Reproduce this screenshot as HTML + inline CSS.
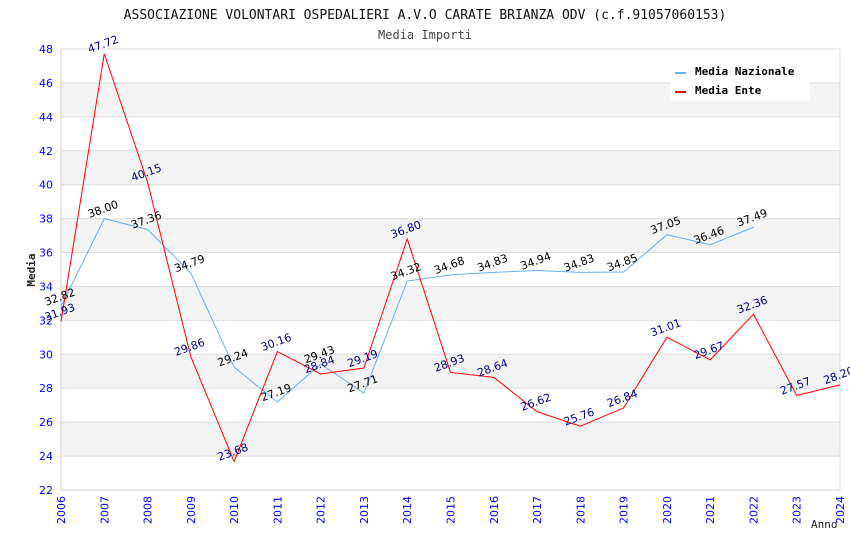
<!DOCTYPE html>
<html><head><meta charset="utf-8"><style>
body{margin:0;background:#fff;}
svg{display:block;}
text{font-family:"DejaVu Sans Mono","Liberation Mono",monospace;}
</style></head><body>
<svg id="chart" width="850" height="550">
<text x="425" y="19" text-anchor="middle" font-size="13" fill="#111">ASSOCIAZIONE VOLONTARI OSPEDALIERI A.V.O CARATE BRIANZA ODV (c.f.91057060153)</text>
<text x="425" y="39" text-anchor="middle" font-size="12" fill="#444">Media Importi</text>
<g id="bands"></g><g id="grid"></g><g id="axes"></g><g id="series"></g><g id="labels"></g>
<text x="35" y="270" transform="rotate(-90 35 270)" text-anchor="middle" font-size="11" font-weight="bold" fill="#222">Media</text>
<text x="811" y="528" font-size="11" fill="#222">Anno</text>
<g>
<rect x="670" y="57" width="140" height="44" fill="#fff"/>
<line x1="675" y1="73" x2="686" y2="73" stroke="#6aaef0" stroke-width="2"/>
<text x="695" y="75" font-size="11" font-weight="bold" fill="#000">Media Nazionale</text>
<line x1="675" y1="92" x2="686" y2="92" stroke="#f00" stroke-width="2"/>
<text x="695" y="94" font-size="11" font-weight="bold" fill="#000">Media Ente</text>
</g>
</svg>
<script>
const years=[2006,2007,2008,2009,2010,2011,2012,2013,2014,2015,2016,2017,2018,2019,2020,2021,2022,2023,2024];
const nazionale=[32.82,38.00,37.36,34.79,29.24,27.19,29.43,27.71,34.32,34.68,34.83,34.94,34.83,34.85,37.05,36.46,37.49];
const ente=[31.93,47.72,40.15,29.86,23.68,30.16,28.84,29.19,36.80,28.93,28.64,26.62,25.76,26.84,31.01,29.67,32.36,27.57,28.20];
const yTicks=[22,24,26,28,30,32,34,36,38,40,42,44,46,48];
const L=61,R=840,T=49,B=490,yMin=22,yMax=48;
const xs=y=>L+(y-years[0])/(years[years.length-1]-years[0])*(R-L);
const ys=v=>B-(v-yMin)/(yMax-yMin)*(B-T);
const NS="http://www.w3.org/2000/svg";
function mk(t,a,p){const e=document.createElementNS(NS,t);for(const k in a)e.setAttribute(k,a[k]);p.appendChild(e);return e;}
const bands=document.getElementById('bands'),grid=document.getElementById('grid'),axes=document.getElementById('axes'),ser=document.getElementById('series'),lab=document.getElementById('labels');
for(let i=0;i<yTicks.length-1;i++){if(i%2===1){const r=mk('rect',{x:L,y:ys(yTicks[i+1]),width:R-L,height:ys(yTicks[i])-ys(yTicks[i+1]),fill:'#f3f3f3'},bands);

}}
yTicks.forEach(v=>{const l=mk('line',{x1:L,x2:R,y1:ys(v),y2:ys(v),stroke:'#ddd'},grid);


const t=mk('text',{x:L-8,y:ys(v)+4,'text-anchor':'end','font-size':11,fill:'#00f',style:'font-family:"DejaVu Sans","Liberation Sans",sans-serif'},axes);t.textContent=v;

});
mk('line',{x1:L,x2:L,y1:T,y2:B,stroke:'#ccc'},axes);mk('line',{x1:R,x2:R,y1:T,y2:B,stroke:'#ddd'},axes);mk('line',{x1:L,x2:R,y1:B,y2:B,stroke:'#ccc'},axes);
years.forEach(y=>{const x=xs(y);const t=mk('text',{x:x+4,y:B+6,transform:`rotate(-90 ${x+4} ${B+6})`,'text-anchor':'end','font-size':11,fill:'#00f',style:'font-family:"DejaVu Sans","Liberation Sans",sans-serif'},axes);t.textContent=y;

});
function series(vals,color,lc,name){const pts=vals.map((v,i)=>xs(years[i])+','+ys(v)).join(' ');
const p=mk('polyline',{points:pts,fill:'none',stroke:color,'stroke-width':1},ser);


vals.forEach((v,i)=>{const x=xs(years[i]),y=ys(v)-6;const t=mk('text',{x:x,y:y,transform:`rotate(-20 ${x} ${y})`,'text-anchor':'middle','font-size':11,fill:lc,style:'font-family:"DejaVu Sans","Liberation Sans",sans-serif'},lab);t.textContent=v.toFixed(2);

});}
series(nazionale,'#6aaef0','#000','nazionale');
series(ente,'#f00','#00008b','ente');
</script>
</body></html>
